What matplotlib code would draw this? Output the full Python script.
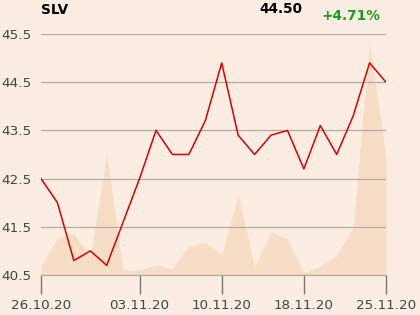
import matplotlib
matplotlib.use('Agg')
import matplotlib.pyplot as plt
import numpy as np

# SLV daily closes, 26.10.20 .. 25.11.20 (22 sessions)
closes = [42.5, 42.0, 40.8, 41.0, 40.7, 41.6, 42.5, 43.5, 43.0, 43.0, 43.7,
          44.9, 43.4, 43.0, 43.4, 43.5, 42.7, 43.6, 43.0, 43.8, 44.9, 44.5]
# traded volume, relative units
volume = [9, 37, 41, 18, 121, 5, 5, 10, 6, 29, 33,
          20, 80, 8, 43, 36, 2, 9, 19, 48, 231, 118]
tick_idx = [0, 6, 11, 16, 21]
tick_labels = ['26.10.20', '03.11.20', '10.11.20', '18.11.20', '25.11.20']
y_ticks = [40.5, 41.5, 42.5, 43.5, 44.5, 45.5]

BG = '#fbede1'
VOL = '#f7dcc6'
GRID = '#b3aca6'
TXT = '#444444'

x = np.arange(len(closes))

fig = plt.figure(figsize=(4.2, 3.15), dpi=100, facecolor=BG)
ax = fig.add_axes([41/420, 40/315, 345/420, 241/315])
ax.set_facecolor(BG)

# volume in the background on its own scale
axv = ax.twinx()
axv.fill_between(x, volume, 0, color=VOL, lw=0)
axv.set_ylim(0, 241)
axv.axis('off')
axv.set_zorder(0)
ax.set_zorder(1)
ax.patch.set_visible(False)

ax.plot(x, closes, color='#dd0000', lw=1.1)
ax.set_xlim(0, len(closes) - 1)
ax.set_ylim(40.5, 45.5)

ax.set_yticks(y_ticks)
ax.set_yticklabels(['%.1f' % v for v in y_ticks])
ax.yaxis.grid(True, color=GRID, lw=0.9)
ax.set_axisbelow(True)
ax.tick_params(axis='y', length=0, pad=7, labelsize=9.7, labelcolor=TXT)

ax.set_xticks(tick_idx)
ax.set_xticklabels(tick_labels)
ax.tick_params(axis='x', length=14, width=1, color='#777777', pad=3,
               labelsize=9.7, labelcolor=TXT)

for s in ['top', 'right', 'left']:
    ax.spines[s].set_visible(False)
ax.spines['bottom'].set_color(GRID)
ax.spines['bottom'].set_linewidth(0.9)

last = closes[-1]
chg = (closes[-1] / closes[0] - 1) * 100
fig.text(41/420, 1 - 10/315, 'SLV', fontsize=9.8, fontweight='bold',
         color='black', va='center', ha='left')
fig.text(281/420, 1 - 9/315, '%.2f' % last, fontsize=9.8, fontweight='bold',
         color='black', va='center', ha='center')
fig.text(351/420, 1 - 16.5/315, '%+.2f%%' % chg, fontsize=9.8,
         fontweight='bold', color='#1a9e1a', va='center', ha='center')

fig.savefig('out.png', dpi=100, facecolor=BG)
